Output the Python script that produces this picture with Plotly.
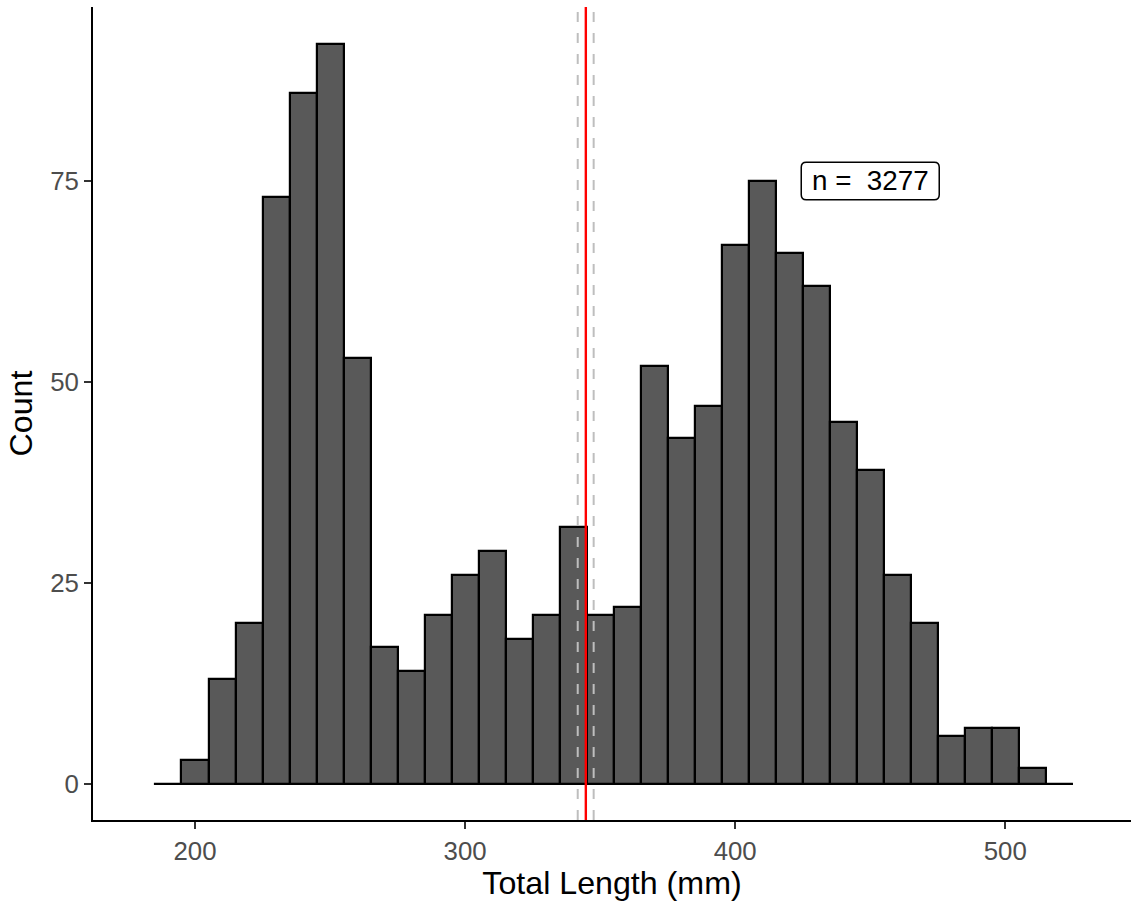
import plotly.graph_objects as go

# Histogram of total length (10 mm bins); bin midpoints and counts.
# The empty end bins draw only as the flat baseline.
bin_mid = [190, 200, 210, 220, 230, 240, 250, 260, 270, 280, 290, 300, 310, 320,
           330, 340, 350, 360, 370, 380, 390, 400, 410, 420, 430, 440, 450, 460,
           470, 480, 490, 500, 510, 520]
counts = [0, 3, 13, 20, 73, 86, 92, 53, 17, 14, 21, 26, 29, 18,
          21, 32, 21, 22, 52, 43, 47, 67, 75, 66, 62, 45, 39, 26,
          20, 6, 7, 7, 2, 0]
bin_width = 10

# Mean length and its confidence limits
mean_tl = 344.7
ci_low = 341.7
ci_high = 347.6

n_fish = 3277
label_pos = (450, 75)

x_ticks = [200, 300, 400, 500]
y_ticks = [0, 25, 50, 75]

FONT = "Liberation Sans, Arial, sans-serif"

fig = go.Figure()

fig.add_trace(go.Bar(
    x=bin_mid,
    y=counts,
    width=bin_width,
    marker=dict(color="#595959", line=dict(color="black", width=2.2)),
    showlegend=False,
))

# Baseline spanning every bin (including the empty outer ones)
fig.add_shape(
    type="line", xref="x", yref="y",
    x0=bin_mid[0] - bin_width / 2, x1=bin_mid[-1] + bin_width / 2,
    y0=0, y1=0,
    line=dict(color="black", width=2.2),
)

# Confidence limits (dashed grey) and mean (red)
for v in (ci_low, ci_high):
    fig.add_shape(
        type="line", xref="x", yref="paper", x0=v, x1=v, y0=0, y1=1,
        line=dict(color="#BEBEBE", width=2, dash="10px,11px"),
    )
fig.add_shape(
    type="line", xref="x", yref="paper", x0=mean_tl, x1=mean_tl, y0=0, y1=1,
    line=dict(color="red", width=2.4),
)

# Rounded label box (pixel-sized, anchored at the label position)
half_w, half_h, r = 69, 18.8, 5
box_path = (
    f"M {-half_w + r},{-half_h} L {half_w - r},{-half_h} "
    f"Q {half_w},{-half_h} {half_w},{-half_h + r} L {half_w},{half_h - r} "
    f"Q {half_w},{half_h} {half_w - r},{half_h} L {-half_w + r},{half_h} "
    f"Q {-half_w},{half_h} {-half_w},{half_h - r} L {-half_w},{-half_h + r} "
    f"Q {-half_w},{-half_h} {-half_w + r},{-half_h} Z"
)
fig.add_shape(
    type="path", xref="x", yref="y",
    xsizemode="pixel", ysizemode="pixel",
    xanchor=label_pos[0], yanchor=label_pos[1],
    path=box_path,
    fillcolor="white", line=dict(color="black", width=1.5),
    layer="above",
)

fig.add_annotation(
    x=label_pos[0], y=label_pos[1], xref="x", yref="y",
    text=f"n =  {n_fish}", showarrow=False,
    font=dict(family=FONT, size=27.8, color="black"),
)

axis_common = dict(
    showgrid=False, zeroline=False,
    showline=True, linecolor="black", linewidth=2,
    ticks="outside", ticklen=7, tickwidth=2, tickcolor="#333333",
    tickfont=dict(family=FONT, size=25.8, color="#4D4D4D"),
)

fig.update_xaxes(
    range=[162.24, 546.54], tickvals=x_ticks,
    title=dict(text="Total Length (mm)", font=dict(family=FONT, size=32.2, color="black"), standoff=2),
    **axis_common,
)
fig.update_yaxes(
    range=[-4.48, 96.64], tickvals=y_ticks,
    title=dict(text="Count", font=dict(family=FONT, size=32.2, color="black"), standoff=8),
    **axis_common,
)

fig.update_layout(
    width=1131, height=903,
    margin=dict(l=93, r=0, t=7, b=83, autoexpand=False),
    plot_bgcolor="white", paper_bgcolor="white",
    bargap=0,
)

fig.write_html("out.html")
